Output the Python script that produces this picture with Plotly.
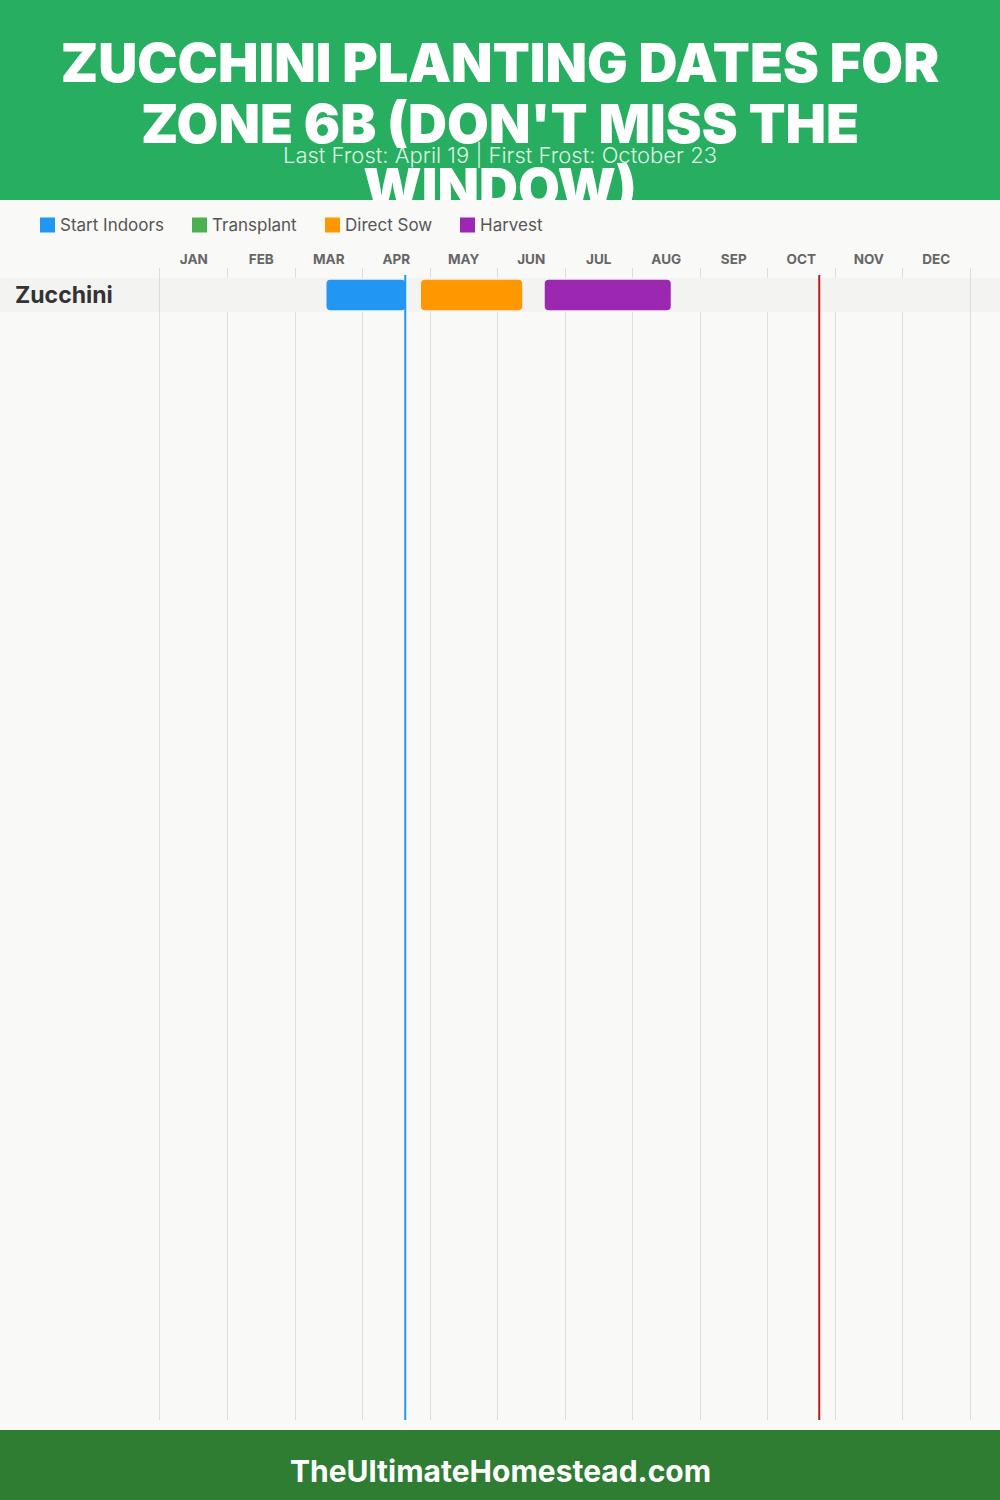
import plotly.graph_objects as go

# ---------------- data ----------------
TITLE_LINES = ["ZUCCHINI PLANTING DATES FOR", "ZONE 6B (DON'T MISS THE", "WINDOW)"]
SUBTITLE = "Last Frost: April 19 | First Frost: October 23"
FOOTER = "TheUltimateHomestead.com"
MONTHS = ["JAN", "FEB", "MAR", "APR", "MAY", "JUN", "JUL", "AUG", "SEP", "OCT", "NOV", "DEC"]
CROPS = ["Zucchini"]

ACTIVITIES = ["Start Indoors", "Transplant", "Direct Sow", "Harvest"]
COLORS = ["#2196F3", "#4CAF50", "#FF9800", "#9C27B0"]
# (month number, day) start / end for each activity, None = not applicable
START_DATES = [(3, 14), None, (4, 26), (6, 21)]
END_DATES = [(4, 19), None, (6, 11), (8, 17)]

LAST_FROST = (4, 19)
FIRST_FROST = (10, 23)


def pos(md):
    m, d = md
    return (m - 1) + d / 30.0


# ---------------- layout helpers (pixels -> paper) ----------------
W, H = 1000, 1500
FONT = "Inter"


def py(p):
    return (H - p) / H


def px(p):
    return p / W


PLOT_TOP, PLOT_BOT = 268, 1420
ROW_PX = 34.0
ROW_CENTER = 295
TITLE_Y = [68, 129, 193]          # header line centres (px)
LEGEND_X = [40, 192, 325, 460]    # legend item left edges (px)
LEGEND_Y = 225

fig = go.Figure()

for name, color, s, e in zip(ACTIVITIES, COLORS, START_DATES, END_DATES):
    if s is None:
        continue
    fig.add_trace(go.Bar(
        y=[CROPS[0]], base=[pos(s)], x=[pos(e) - pos(s)], orientation="h",
        name=name, width=0.9, showlegend=False,
        marker=dict(color=color, line=dict(width=0), cornerradius=4),
    ))

# title as text trace in the header subplot (clipped at the header edge)
fig.add_trace(go.Scatter(
    x=[0.5] * len(TITLE_LINES), y=TITLE_Y, mode="text", text=TITLE_LINES,
    textposition="middle center",
    textfont=dict(family=FONT, size=54, color="white", weight=900),
    cliponaxis=True, showlegend=False, hoverinfo="skip",
    xaxis="x2", yaxis="y2",
))

y_top = -(ROW_CENTER - PLOT_TOP) / ROW_PX
y_bot = (PLOT_BOT - ROW_CENTER) / ROW_PX

shapes = [
    dict(type="rect", xref="paper", yref="paper", x0=0, x1=1, y0=py(200), y1=1,
         fillcolor="#27AE60", line=dict(width=0), layer="below"),
    dict(type="rect", xref="paper", yref="paper", x0=0, x1=1, y0=0, y1=py(1430),
         fillcolor="#2E7D32", line=dict(width=0), layer="below"),
    dict(type="rect", xref="paper", yref="paper", x0=0, x1=1, y0=py(312), y1=py(278),
         fillcolor="#F3F3F2", line=dict(width=0), layer="below"),
    dict(type="rect", xref="x", yref="y", x0=-0.5, x1=12.5, y0=-0.5, y1=0.5,
         fillcolor="#F3F3F2", line=dict(width=0), layer="between"),
    dict(type="line", xref="x", yref="paper", x0=pos(LAST_FROST), x1=pos(LAST_FROST),
         y0=py(PLOT_BOT), y1=py(275), line=dict(color="#2196F3", width=2), layer="above"),
    dict(type="line", xref="x", yref="paper", x0=pos(FIRST_FROST), x1=pos(FIRST_FROST),
         y0=py(PLOT_BOT), y1=py(275), line=dict(color="#B71C1C", width=2), layer="above"),
]

annotations = [
    dict(text=SUBTITLE, xref="paper", yref="paper", x=0.5, y=py(154),
         xanchor="center", yanchor="middle", showarrow=False,
         font=dict(family=FONT, size=22, color="rgba(255,255,255,0.85)", weight=300)),
    dict(text=FOOTER, xref="paper", yref="paper", x=0.5, y=py(1471),
         xanchor="center", yanchor="middle", showarrow=False,
         font=dict(family=FONT, size=30, color="white", weight=700)),
]
for crop in CROPS:
    annotations.append(dict(
        text=crop, xref="paper", yref="y", x=px(13), y=crop, xanchor="left",
        yanchor="middle", showarrow=False,
        font=dict(family=FONT, size=23, color="#333333", weight=700)))

# manual legend
for name, color, lx in zip(ACTIVITIES, COLORS, LEGEND_X):
    shapes.append(dict(type="rect", xref="paper", yref="paper",
                       x0=px(lx), x1=px(lx + 15), y0=py(LEGEND_Y + 7.5), y1=py(LEGEND_Y - 7.5),
                       fillcolor=color, line=dict(width=0), layer="above"))
    annotations.append(dict(text=name, xref="paper", yref="paper", x=px(lx + 18),
                            y=py(LEGEND_Y), xanchor="left", yanchor="middle", showarrow=False,
                            font=dict(family=FONT, size=17, color="#555555")))

fig.update_layout(
    width=W, height=H,
    margin=dict(l=0, r=0, t=0, b=0),
    paper_bgcolor="#F9F9F7", plot_bgcolor="rgba(0,0,0,0)",
    barmode="overlay",
    showlegend=False,
    xaxis=dict(domain=[px(160), px(970)], range=[0, 12], side="top",
               tickmode="array", tickvals=[i + 0.5 for i in range(12)], ticktext=MONTHS,
               tickfont=dict(family=FONT, size=13.5, color="#666666", weight=700),
               ticks="", showgrid=False, zeroline=False, showline=False,
               ticklabelstandoff=0,
               minor=dict(tickmode="array", tickvals=list(range(13)), showgrid=True,
                          gridcolor="#DDDDDD", gridwidth=1)),
    yaxis=dict(domain=[py(PLOT_BOT), py(PLOT_TOP)], type="category",
               categoryorder="array", categoryarray=CROPS,
               range=[y_bot, y_top], showticklabels=False, showgrid=False,
               zeroline=False, showline=True, linecolor="#DDDDDD", linewidth=1,
               mirror=True, ticks=""),
    xaxis2=dict(domain=[0, 1], range=[0, 1], visible=False, anchor="y2"),
    yaxis2=dict(domain=[py(200), 1], range=[200, 0], visible=False, anchor="x2"),
    shapes=shapes,
    annotations=annotations,
)

fig.write_html("out.html", config={"displayModeBar": False},
               post_script="document.body.style.margin='0';")
